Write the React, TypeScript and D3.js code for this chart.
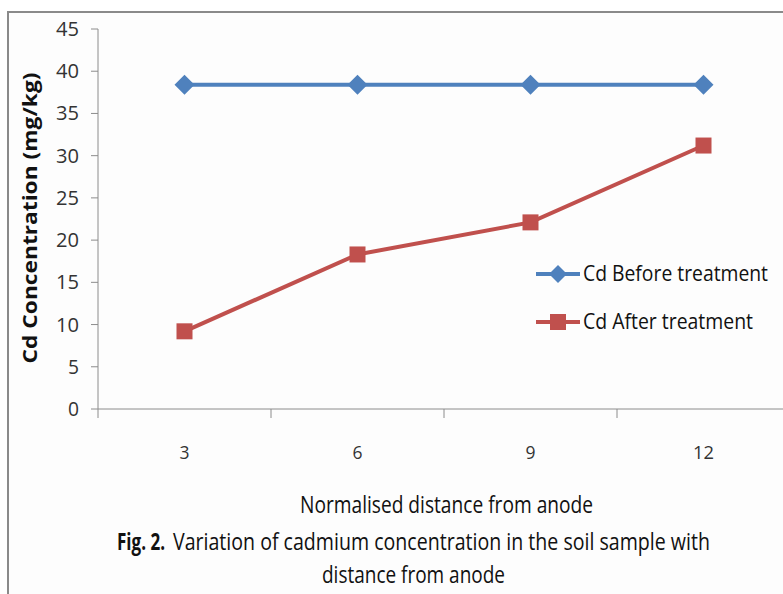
import React, { useLayoutEffect, useRef } from "react";
import * as d3 from "d3";

const categories = ["3", "6", "9", "12"];
const beforeValues = [38.4, 38.4, 38.4, 38.4];
const afterValues = [9.2, 18.3, 22.1, 31.2];
const yTicks = [0, 5, 10, 15, 20, 25, 30, 35, 40, 45];
const seriesNames = ["Cd Before treatment", "Cd After treatment"];

const FONT = "'Open Sans', sans-serif";

// Text scaled horizontally to a target width using a scale transform
function FitText(props: {
  x: number; y: number; width: number; size: number; bold?: boolean;
  rotate?: number; anchor?: "start" | "middle"; fill?: string; children: React.ReactNode;
}) {
  const ref = useRef<SVGTextElement>(null);
  const { x, y, width, size, bold, rotate = 0, anchor = "start", fill = "#111" } = props;
  useLayoutEffect(() => {
    const el = ref.current;
    if (!el) return;
    const natural = el.getComputedTextLength();
    const s = natural > 0 ? width / natural : 1;
    el.setAttribute("transform", `translate(${x},${y}) rotate(${rotate}) scale(${s},1)`);
  }, [x, y, width, rotate]);
  return (
    <text ref={ref} transform={`translate(${x},${y}) rotate(${rotate}) scale(0.8,1)`} dy="0.35em"
      textAnchor={anchor} fontFamily={FONT} fontSize={size} fontWeight={bold ? "bold" : "normal"} fill={fill}>
      {props.children}
    </text>
  );
}

export default function App() {
  const W = 783, H = 594;
  const x0 = 98, x1 = 790, yTop = 29, yBot = 409;
  const x = d3.scaleBand().domain(categories).range([x0, x1]);
  const y = d3.scaleLinear().domain([0, 45]).range([yBot, yTop]);
  const cx = (c: string) => (x(c) as number) + x.bandwidth() / 2;
  const line = d3.line<number>().x((_, i) => cx(categories[i])).y((v) => y(v));
  const blue = "#4F81BD", red = "#C0504D";
  const diamond = (px: number, py: number, r: number) =>
    `M${px},${py - r}L${px + r},${py}L${px},${py + r}L${px - r},${py}Z`;
  const boundaries = d3.range(categories.length + 1).map((i) => x0 + i * x.step());

  return (
    <svg width={W} height={H} style={{ position: "absolute", left: 0, top: 0 }}>
      <rect x={0} y={0} width={W} height={H} fill="#fff" />
      <rect x={8} y={12} width={W + 20} height={H + 20} fill="#fdfdfd" stroke="#8a8a8a" strokeWidth={2} />
      {/* y axis */}
      <line x1={x0} x2={x0} y1={yTop} y2={yBot} stroke="#8c8c8c" strokeWidth={1} />
      {yTicks.map((t) => (
        <g key={t}>
          <line x1={x0 - 7} x2={x0} y1={y(t)} y2={y(t)} stroke="#8c8c8c" />
          <text x={x0 - 19} y={y(t)} dy="0.35em" textAnchor="end" fontFamily={FONT} fontSize={20} fill="#333"
            textLength={t >= 10 ? 23 : 11} lengthAdjust="spacingAndGlyphs">
            {t}
          </text>
        </g>
      ))}
      {/* x axis */}
      <line x1={x0} x2={x1} y1={yBot} y2={yBot} stroke="#8c8c8c" />
      {boundaries.map((b, i) => (
        <line key={i} x1={b} x2={b} y1={yBot} y2={yBot + 9} stroke="#8c8c8c" />
      ))}
      {categories.map((c) => (
        <text key={c} x={cx(c)} y={452} dy="0.35em" textAnchor="middle" fontFamily={FONT} fontSize={19} fill="#333"
          textLength={c.length > 1 ? 21 : 10} lengthAdjust="spacingAndGlyphs">
          {c}
        </text>
      ))}
      {/* series */}
      <path d={line(beforeValues) as string} fill="none" stroke={blue} strokeWidth={4} />
      {beforeValues.map((v, i) => (
        <path key={i} d={diamond(cx(categories[i]), y(v), 10)} fill={blue} />
      ))}
      <path d={line(afterValues) as string} fill="none" stroke={red} strokeWidth={4} />
      {afterValues.map((v, i) => (
        <rect key={i} x={cx(categories[i]) - 8} y={y(v) - 8} width={16} height={16} fill={red} />
      ))}
      {/* legend */}
      <line x1={536} x2={580} y1={274} y2={274} stroke={blue} strokeWidth={4} />
      <path d={diamond(558, 274, 9)} fill={blue} />
      <FitText x={583} y={274} width={185} size={21}>{seriesNames[0]}</FitText>
      <line x1={536} x2={580} y1={322} y2={322} stroke={red} strokeWidth={4} />
      <rect x={550} y={314} width={16} height={16} fill={red} />
      <FitText x={583} y={322} width={170} size={21}>{seriesNames[1]}</FitText>
      {/* y title */}
      <FitText x={30} y={218} width={291} size={20} bold rotate={-90} anchor="middle">
        Cd Concentration (mg/kg)
      </FitText>
      {/* x title & caption */}
      <FitText x={300} y={505} width={293} size={24}>Normalised distance  from anode</FitText>
      <FitText x={117} y={542} width={48} size={24} bold>Fig. 2.</FitText>
      <FitText x={173} y={542} width={537} size={24}>
        Variation of cadmium concentration in the soil sample with
      </FitText>
      <FitText x={322} y={575} width={183} size={24}>distance from anode</FitText>
    </svg>
  );
}
